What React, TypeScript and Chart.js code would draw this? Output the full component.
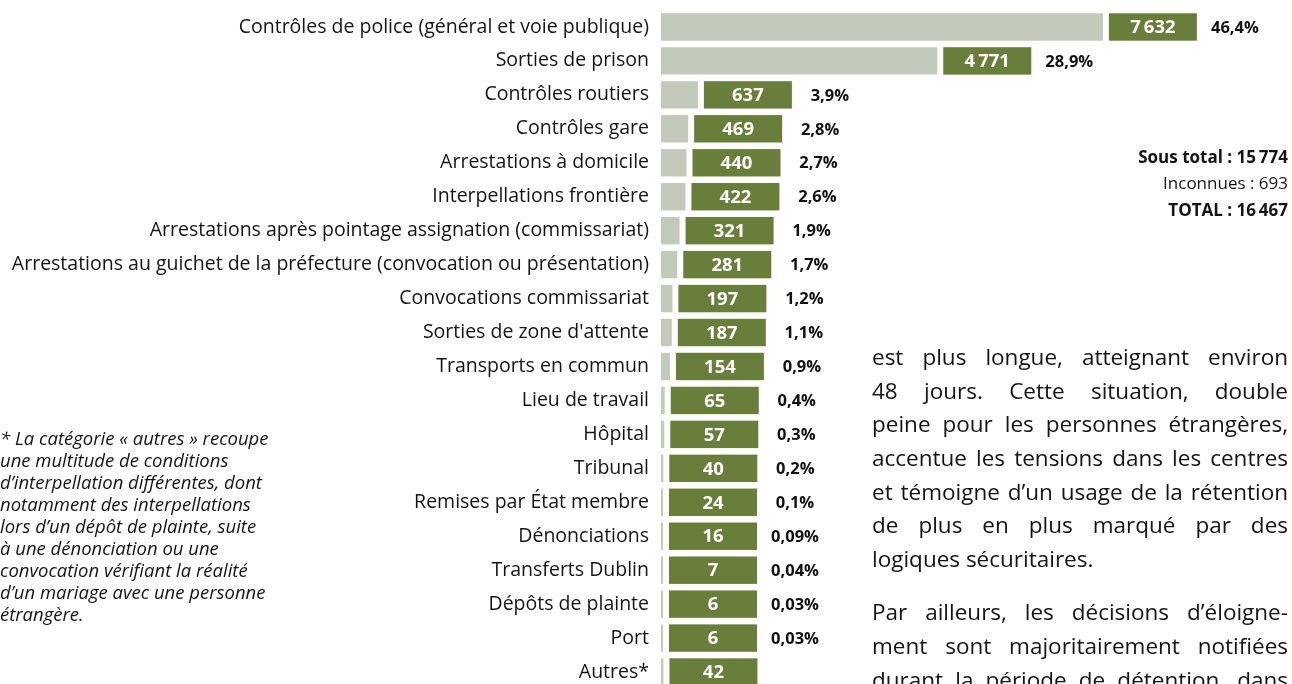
import React, { useEffect, useRef } from "react";
import { Chart, registerables } from "chart.js";

Chart.register(...registerables);

const categories = [
  "Contrôles de police (général et voie publique)",
  "Sorties de prison",
  "Contrôles routiers",
  "Contrôles gare",
  "Arrestations à domicile",
  "Interpellations frontière",
  "Arrestations après pointage assignation (commissariat)",
  "Arrestations au guichet de la préfecture (convocation ou présentation)",
  "Convocations commissariat",
  "Sorties de zone d'attente",
  "Transports en commun",
  "Lieu de travail",
  "Hôpital",
  "Tribunal",
  "Remises par État membre",
  "Dénonciations",
  "Transferts Dublin",
  "Dépôts de plainte",
  "Port",
  "Autres*",
];

const values = [7632, 4771, 637, 469, 440, 422, 321, 281, 197, 187, 154, 65, 57, 40, 24, 16, 7, 6, 6, 42];

const percentLabels = [
  "46,4%", "28,9%", "3,9%", "2,8%", "2,7%", "2,6%", "1,9%", "1,7%", "1,2%", "1,1%",
  "0,9%", "0,4%", "0,3%", "0,2%", "0,1%", "0,09%", "0,04%", "0,03%", "0,03%", "",
];

const totalLines = [
  { text: "Sous total : 15\u2009774", bold: true },
  { text: "Inconnues : 693", bold: false },
  { text: "TOTAL : 16\u2009467", bold: true },
];

const footnoteLines = [
  "* La catégorie « autres » recoupe",
  "une multitude de conditions",
  "d’interpellation différentes, dont",
  "notamment des interpellations",
  "lors d’un dépôt de plainte, suite",
  "à une dénonciation ou une",
  "convocation vérifiant la réalité",
  "d’un mariage avec une personne",
  "étrangère.",
];

const paragraphLines = [
  { text: "est plus longue, atteignant environ", justify: true },
  { text: "48 jours. Cette situation, double", justify: true },
  { text: "peine pour les personnes étrangères,", justify: true },
  { text: "accentue les tensions dans les centres", justify: true },
  { text: "et témoigne d’un usage de la rétention", justify: true },
  { text: "de plus en plus marqué par des", justify: true },
  { text: "logiques sécuritaires.", justify: false },
  { text: "Par ailleurs, les décisions d’éloigne-", justify: true },
  { text: "ment sont majoritairement notifiées", justify: true },
  { text: "durant la période de détention, dans", justify: true },
];
const paragraphCenters = [357, 391, 424, 458, 492, 525, 559, 612, 646, 680];

const LIGHT = "#c3cabb";
const DARK = "#687e3a";
const FONT = "'Open Sans', 'Noto Sans', sans-serif";

function fmt(v: number): string {
  const s = String(v);
  if (s.length > 3) return s.slice(0, s.length - 3) + "\u2009" + s.slice(s.length - 3);
  return s;
}

const BOX_GAP = 6;
const BOX_W = 88;
const PCT_OFFSET = 38;

const boxPlugin = {
  id: "valueBoxes",
  afterDatasetsDraw(chart: any) {
    const ctx = chart.ctx;
    const meta = chart.getDatasetMeta(0);
    ctx.save();
    meta.data.forEach((bar: any, i: number) => {
      const p = bar.getProps(["x", "y", "height"], true);
      const left = p.x + BOX_GAP;
      const top = p.y - p.height / 2;
      ctx.fillStyle = DARK;
      ctx.fillRect(left, top, BOX_W, p.height);
      ctx.fillStyle = "#ffffff";
      ctx.font = `bold 18.5px ${FONT}`;
      ctx.textAlign = "center";
      ctx.textBaseline = "middle";
      ctx.fillText(fmt(values[i]), left + BOX_W / 2, p.y + 1);
      if (percentLabels[i]) {
        ctx.fillStyle = "#111111";
        ctx.font = `bold 16.5px ${FONT}`;
        ctx.fillText(percentLabels[i], left + BOX_W + PCT_OFFSET, p.y + 1);
      }
    });
    ctx.restore();
  },
};

function BarChart() {
  const ref = useRef<HTMLCanvasElement | null>(null);
  useEffect(() => {
    if (!ref.current) return;
    const chart = new Chart(ref.current, {
      type: "bar",
      data: {
        labels: categories,
        datasets: [
          {
            data: values,
            backgroundColor: LIGHT,
            borderWidth: 0,
            barPercentage: 0.807,
            categoryPercentage: 1,
            minBarLength: 2,
          },
        ],
      },
      options: {
        indexAxis: "y",
        responsive: false,
        animation: false,
        devicePixelRatio: 1,
        layout: { padding: { top: 10, bottom: 11, left: 0, right: 52 } },
        plugins: { legend: { display: false }, tooltip: { enabled: false } },
        scales: {
          x: { display: false, min: 0, max: 10000 },
          y: {
            grid: { display: false, drawTicks: false },
            border: { display: false },
            ticks: {
              padding: 12,
              color: "#141414",
              font: { family: FONT, size: 19.5 },
            },
            afterFit: (scale: any) => {
              scale.width = 661;
              scale.paddingTop = 0;
              scale.paddingBottom = 0;
            },
          },
        },
      },
      plugins: [boxPlugin],
    });
    return () => chart.destroy();
  }, []);
  return (
    <canvas
      ref={ref}
      width={1292}
      height={700}
      style={{ position: "absolute", left: 0, top: 0, width: 1292, height: 700 }}
    />
  );
}

export default function App() {
  return (
    <div
      style={{
        position: "fixed",
        left: 0,
        top: 0,
        width: 1292,
        height: 684,
        overflow: "hidden",
        background: "#ffffff",
        fontFamily: FONT,
        color: "#141414",
      }}
    >
      <BarChart />
      {totalLines.map((l, i) => (
        <div
          key={"t" + i}
          style={{
            position: "absolute",
            right: 4,
            top: [157, 183, 210][i] - 12,
            lineHeight: "24px",
            fontSize: 17,
            fontWeight: l.bold ? 700 : 400,
            whiteSpace: "nowrap",
          }}
        >
          {l.text}
        </div>
      ))}
      {footnoteLines.map((l, i) => (
        <div
          key={"f" + i}
          style={{
            position: "absolute",
            left: 0,
            top: 438 + i * 22 - 11,
            lineHeight: "22px",
            fontSize: 18.5,
            fontStyle: "italic",
            whiteSpace: "nowrap",
          }}
        >
          {l}
        </div>
      ))}
      {paragraphLines.map((l, i) => (
        <div
          key={"p" + i}
          style={{
            position: "absolute",
            left: 872,
            width: 416,
            top: paragraphCenters[i] - 17,
            lineHeight: "34px",
            fontSize: 22.5,
            textAlign: l.justify ? "justify" : "left",
            textAlignLast: l.justify ? "justify" : "left",
          } as React.CSSProperties}
        >
          {l.text}
        </div>
      ))}
    </div>
  );
}
